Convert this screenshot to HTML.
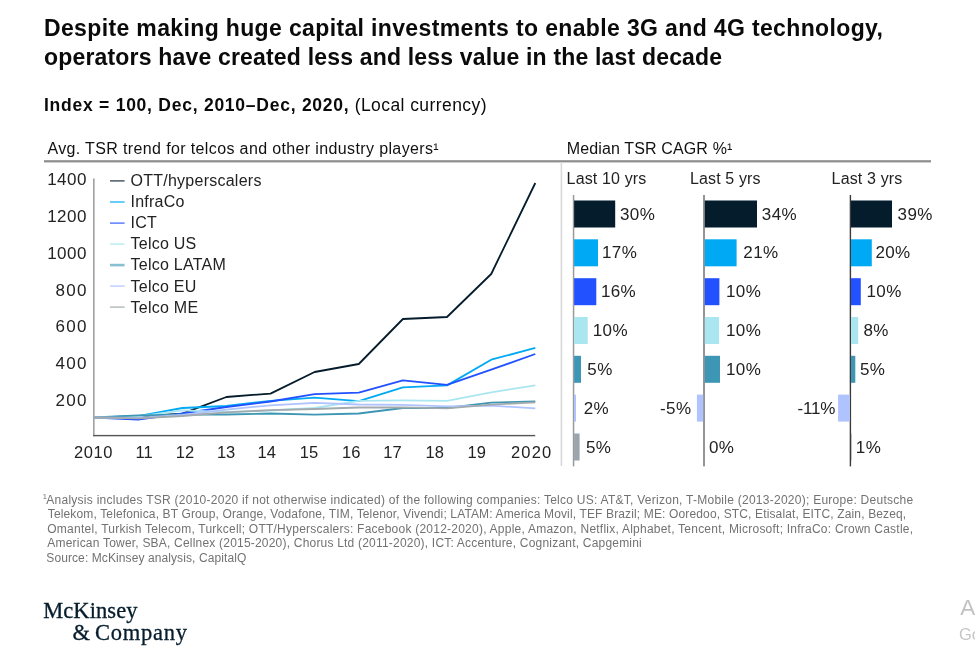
<!DOCTYPE html>
<html lang="en">
<head>
<meta charset="utf-8">
<title>TSR chart</title>
<style>
html,body{margin:0;padding:0;background:#fff;}
body{width:975px;height:670px;position:relative;overflow:hidden;font-family:"Liberation Sans",sans-serif;color:#111;}
.t{position:absolute;white-space:nowrap;line-height:1;}
.title{font-weight:bold;font-size:23px;color:#0a0a0a;}
.sub{font-size:17.5px;color:#0a0a0a;}
.hd{font-size:16px;letter-spacing:0.37px;color:#111;}
.ax{font-size:16px;color:#222;}
.yl{font-size:17px;letter-spacing:0.4px;width:45px;text-align:right;}
.xl{font-size:16.5px;text-align:center;}
.lg{font-size:16px;letter-spacing:0.25px;color:#222;}
.ch{font-size:16px;color:#222;letter-spacing:0.15px;}
.bl{font-size:17px;color:#222;letter-spacing:0.4px;}
.fn{font-size:12px;color:#727272;}
.logo{font-family:"Liberation Serif",serif;font-size:22.5px;color:#051C2C;-webkit-text-stroke:0.3px #051C2C;}
.wm{color:#c8c8c8;}
svg{position:absolute;left:0;top:0;}
</style>
</head>
<body>
<div class="t title" id="t1" style="left:44px;top:17px;letter-spacing:0.36px;">Despite making huge capital investments to enable 3G and 4G technology,</div>
<div class="t title" id="t2" style="left:44px;top:45.6px;letter-spacing:0.18px;">operators have created less and less value in the last decade</div>
<div class="t sub" id="s1" style="left:44px;top:96.5px;"><b style="letter-spacing:0.75px;">Index = 100, Dec, 2010–Dec, 2020,</b><span id="s2" style="letter-spacing:0.42px;"> (Local currency)</span></div>
<div class="t hd" id="h1" style="left:47.4px;top:140.5px;">Avg. TSR trend for telcos and other industry players¹</div>
<div class="t hd" id="h2" style="left:566.8px;top:140.5px;letter-spacing:0.13px;">Median TSR CAGR %¹</div>

<svg width="975" height="670" viewBox="0 0 975 670">
  <!-- header rule -->
  <rect x="44" y="160.2" width="887" height="2.2" fill="#8c8c8c"/>
  <!-- panel divider -->
  <rect x="560.6" y="162" width="1.6" height="304" fill="#d9d9d9"/>
  <!-- axes -->
  <rect x="93.2" y="178.5" width="1.3" height="257.8" fill="#8a8a8a"/>
  <rect x="93.2" y="434.9" width="442" height="1.4" fill="#555"/>
  <!-- series -->
  <g fill="none" stroke-width="1.8" stroke-linejoin="round" stroke-linecap="butt">
    <polyline stroke="#051C2C" points="94.0,417.5 138.1,416.5 182.3,413.6 226.4,397 270.5,393.6 314.6,372 358.8,364 402.9,319 447.0,317 491.2,274 535.3,183"/>
    <polyline stroke="#00A9F4" points="94.0,417.5 138.1,416.2 182.3,408 226.4,406 270.5,400.8 314.6,397.7 358.8,401.2 402.9,387.4 447.0,385.4 491.2,359.7 535.3,347.9"/>
    <polyline stroke="#2251FF" points="94.0,417.5 138.1,419.6 182.3,413.5 226.4,407 270.5,401.5 314.6,394.2 358.8,392.6 402.9,380.3 447.0,384.8 491.2,369.7 535.3,354"/>
    <polyline stroke="#AAE6F0" points="94.0,417.5 138.1,416.5 182.3,410.3 226.4,412 270.5,410.5 314.6,408 358.8,400.8 402.9,400.4 447.0,400.9 491.2,392.3 535.3,385.4"/>
    <polyline stroke="#3C96B4" points="94.0,417.5 138.1,415.4 182.3,414.6 226.4,414.5 270.5,413.5 314.6,414.7 358.8,413.5 402.9,408 447.0,408 491.2,402.6 535.3,401.3"/>
    <polyline stroke="#AFC3FF" points="94.0,417.5 138.1,418 182.3,415 226.4,409.6 270.5,405.3 314.6,402.8 358.8,404.5 402.9,404.9 447.0,406.4 491.2,405.7 535.3,408.3"/>
    <polyline stroke="#A2AAAD" points="94.0,417.5 138.1,418.3 182.3,416 226.4,412.3 270.5,410.2 314.6,409 358.8,407.5 402.9,407.3 447.0,408.4 491.2,404.6 535.3,402.4"/>
  </g>
  <!-- legend swatches -->
  <g stroke-width="1.4">
    <line x1="110" x2="124.6" y1="180.9" y2="180.9" stroke="#051C2C" stroke-opacity="0.78"/>
    <line x1="110" x2="124.6" y1="202" y2="202" stroke="#00A9F4" stroke-opacity="0.85"/>
    <line x1="110" x2="124.6" y1="223.1" y2="223.1" stroke="#2251FF" stroke-opacity="0.8"/>
    <line x1="110" x2="124.6" y1="244.1" y2="244.1" stroke="#AAE6F0" stroke-opacity="0.85"/>
    <line x1="110" x2="124.6" y1="265.1" y2="265.1" stroke="#3C96B4" stroke-opacity="0.6" stroke-width="2.6"/>
    <line x1="110" x2="124.6" y1="286.1" y2="286.1" stroke="#AFC3FF" stroke-opacity="0.85"/>
    <line x1="110" x2="124.6" y1="307.1" y2="307.1" stroke="#A2AAAD" stroke-opacity="0.85"/>
  </g>
  <!-- bars -->
  <g id="bars">
    <rect x="572.8" y="195" width="1.5" height="271.4" fill="#9a9a9a"/>
    <rect x="574.1" y="200.5" width="41.1" height="27.0" fill="#051C2C"/>
    <rect x="574.1" y="239.3" width="23.9" height="27.0" fill="#00A9F4"/>
    <rect x="574.1" y="278.2" width="22.2" height="27.0" fill="#2251FF"/>
    <rect x="574.1" y="317.0" width="13.6" height="27.0" fill="#AAE6F0"/>
    <rect x="574.1" y="355.8" width="6.9" height="27.0" fill="#3C96B4"/>
    <rect x="574.1" y="394.6" width="1.9" height="27.0" fill="#AFC3FF"/>
    <rect x="574.1" y="433.5" width="5.5" height="27.0" fill="#9BA5AE"/>
    <rect x="703.2" y="195" width="1.6" height="271.4" fill="#7c7c7c"/>
    <rect x="704.8" y="200.5" width="52.2" height="27.0" fill="#051C2C"/>
    <rect x="704.8" y="239.3" width="31.8" height="27.0" fill="#00A9F4"/>
    <rect x="704.8" y="278.2" width="14.6" height="27.0" fill="#2251FF"/>
    <rect x="704.8" y="317.0" width="14.3" height="27.0" fill="#AAE6F0"/>
    <rect x="704.8" y="355.8" width="15.2" height="27.0" fill="#3C96B4"/>
    <rect x="696.9" y="394.6" width="6.3" height="27.0" fill="#AFC3FF"/>
    <rect x="849.7" y="195" width="1.4" height="271.4" fill="#3a3a3a"/>
    <rect x="851.0" y="200.5" width="41.0" height="27.0" fill="#051C2C"/>
    <rect x="851.0" y="239.3" width="20.8" height="27.0" fill="#00A9F4"/>
    <rect x="851.0" y="278.2" width="9.8" height="27.0" fill="#2251FF"/>
    <rect x="851.0" y="317.0" width="7.2" height="27.0" fill="#AAE6F0"/>
    <rect x="851.0" y="355.8" width="4.3" height="27.0" fill="#3C96B4"/>
    <rect x="838.1" y="394.6" width="11.6" height="27.0" fill="#AFC3FF"/>
    <rect x="851.0" y="433.5" width="0.6" height="27.0" fill="#9BA5AE"/>
  </g>
</svg>

<!-- y labels -->
<div class="t ax yl" style="left:41.8px;top:171px;letter-spacing:0.45px;">1400</div>
<div class="t ax yl" style="left:41.8px;top:208px;letter-spacing:0.45px;">1200</div>
<div class="t ax yl" style="left:41.8px;top:245px;letter-spacing:0.45px;">1000</div>
<div class="t ax yl" style="left:42.8px;top:282px;letter-spacing:1.3px;">800</div>
<div class="t ax yl" style="left:42.8px;top:318px;letter-spacing:1.3px;">600</div>
<div class="t ax yl" style="left:42.8px;top:355px;letter-spacing:1.3px;">400</div>
<div class="t ax yl" style="left:42.8px;top:392px;letter-spacing:1.3px;">200</div>

<!-- legend labels -->
<div class="t lg" style="left:130.5px;top:173.0px;">OTT/hyperscalers</div>
<div class="t lg" style="left:130.5px;top:194.1px;">InfraCo</div>
<div class="t lg" style="left:130.5px;top:215.2px;">ICT</div>
<div class="t lg" style="left:130.5px;top:236.3px;">Telco US</div>
<div class="t lg" style="left:130.5px;top:257.4px;">Telco LATAM</div>
<div class="t lg" style="left:130.5px;top:278.5px;">Telco EU</div>
<div class="t lg" style="left:130.5px;top:299.6px;">Telco ME</div>

<!-- x labels -->
<div class="t ax xl" style="left:63.6px;top:443.9px;width:60px;letter-spacing:0.6px;">2010</div>
<div class="t ax xl" style="left:114.1px;top:443.9px;width:60px;">11</div>
<div class="t ax xl" style="left:154.9px;top:443.9px;width:60px;">12</div>
<div class="t ax xl" style="left:196.1px;top:443.9px;width:60px;">13</div>
<div class="t ax xl" style="left:236.8px;top:443.9px;width:60px;">14</div>
<div class="t ax xl" style="left:279.0px;top:443.9px;width:60px;">15</div>
<div class="t ax xl" style="left:321.2px;top:443.9px;width:60px;">16</div>
<div class="t ax xl" style="left:362.5px;top:443.9px;width:60px;">17</div>
<div class="t ax xl" style="left:404.8px;top:443.9px;width:60px;">18</div>
<div class="t ax xl" style="left:446.8px;top:443.9px;width:60px;">19</div>
<div class="t ax xl" style="left:501.7px;top:443.9px;width:60px;letter-spacing:1.2px;">2020</div>

<!-- column headers -->
<div class="t ch" style="left:566.6px;top:170.7px;">Last 10 yrs</div>
<div class="t ch" style="left:689.9px;top:170.7px;">Last 5 yrs</div>
<div class="t ch" style="left:831.6px;top:170.7px;">Last 3 yrs</div>
<!-- bar labels -->
<div class="t bl" style="left:620.0px;top:205.6px;">30%</div>
<div class="t bl" style="left:602.0px;top:244.4px;">17%</div>
<div class="t bl" style="left:600.9px;top:283.2px;">16%</div>
<div class="t bl" style="left:592.7px;top:322.0px;">10%</div>
<div class="t bl" style="left:587.3px;top:360.9px;">5%</div>
<div class="t bl" style="left:583.7px;top:399.7px;">2%</div>
<div class="t bl" style="left:586.0px;top:438.5px;">5%</div>
<div class="t bl" style="left:761.8px;top:205.6px;">34%</div>
<div class="t bl" style="left:743.3px;top:244.4px;">21%</div>
<div class="t bl" style="left:726.0px;top:283.2px;">10%</div>
<div class="t bl" style="left:726.0px;top:322.0px;">10%</div>
<div class="t bl" style="left:726.0px;top:360.9px;">10%</div>
<div class="t bl" style="left:660.0px;top:399.7px;">-5%</div>
<div class="t bl" style="left:709.0px;top:438.5px;">0%</div>
<div class="t bl" style="left:897.6px;top:205.6px;">39%</div>
<div class="t bl" style="left:875.4px;top:244.4px;">20%</div>
<div class="t bl" style="left:866.5px;top:283.2px;">10%</div>
<div class="t bl" style="left:863.4px;top:322.0px;">8%</div>
<div class="t bl" style="left:860.0px;top:360.9px;">5%</div>
<div class="t bl" style="left:797.5px;top:399.7px;letter-spacing:-0.2px;">-11%</div>
<div class="t bl" style="left:855.8px;top:438.5px;">1%</div>

<!-- footnote -->
<div class="t fn" style="left:46.3px;top:493.9px;letter-spacing:0.26px;"><span style="position:absolute;left:-3.5px;top:-1px;font-size:7.5px;">1</span>Analysis includes TSR (2010-2020 if not otherwise indicated) of the following companies: Telco US: AT&amp;T, Verizon, T-Mobile (2013-2020); Europe: Deutsche</div>
<div class="t fn" style="left:47.8px;top:508.4px;letter-spacing:0.14px;">Telekom, Telefonica, BT Group, Orange, Vodafone, TIM, Telenor, Vivendi; LATAM: America Movil, TEF Brazil; ME: Ooredoo, STC, Etisalat, EITC, Zain, Bezeq,</div>
<div class="t fn" style="left:47.3px;top:522.8px;letter-spacing:0.233px;">Omantel, Turkish Telecom, Turkcell; OTT/Hyperscalers: Facebook (2012-2020), Apple, Amazon, Netflix, Alphabet, Tencent, Microsoft; InfraCo: Crown Castle,</div>
<div class="t fn" style="left:47.3px;top:537.3px;letter-spacing:0.204px;">American Tower, SBA, Cellnex (2015-2020), Chorus Ltd (2011-2020), ICT: Accenture, Cognizant, Capgemini</div>
<div class="t fn" style="left:46.3px;top:551.7px;letter-spacing:0.094px;">Source: McKinsey analysis, CapitalQ</div>

<!-- logo -->
<div class="t logo" style="left:43.2px;top:599.8px;letter-spacing:0.08px;">McKinsey</div>
<div class="t logo" style="left:72.6px;top:622px;letter-spacing:0.75px;word-spacing:-2.2px;">&amp; Company</div>

<!-- watermark -->
<div class="t wm" style="left:960.3px;top:597px;font-size:22.5px;color:#c2c2c2;">Activate Windows</div>
<div class="t wm" style="left:959px;top:625.9px;font-size:16.5px;color:#c6c6c6;">Go to Settings to activate Windows.</div>
</body>
</html>
